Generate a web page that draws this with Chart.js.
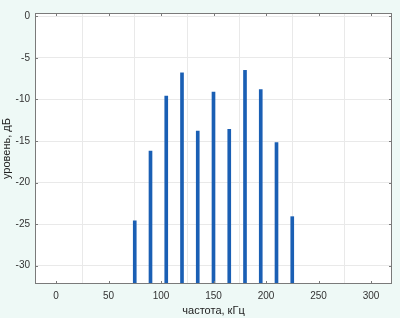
<!DOCTYPE html>
<html>
<head>
<meta charset="utf-8">
<script src="https://cdn.jsdelivr.net/npm/chart.js@4"></script>
<style>
  html, body { margin: 0; padding: 0; background: #eef9f6; }
  #wrap { width: 400px; height: 318px; }
</style>
</head>
<body>
<div id="wrap"><canvas id="spectrumChart" width="400" height="318"></canvas></div>
<script>
// частоты гармоник, кГц
var freqs = [75, 90, 105, 120, 135, 150, 165, 180, 195, 210, 225];
// уровни, дБ
var levels = [-24.6, -16.2, -9.6, -6.8, -13.8, -9.1, -13.6, -6.5, -8.8, -15.2, -24.1];
var xTicks = [0, 50, 100, 150, 200, 250, 300];
var yTicks = [0, -5, -10, -15, -20, -25, -30];
var xMin = -20, xMax = 320;
var yMin = -32.2, yMax = 0.4;

// рамка и засечки внутрь, как в MATLAB
var boxPlugin = {
  id: "box",
  beforeDraw: function (chart) {
    var a = chart.chartArea;
    var c = chart.ctx;
    c.save();
    c.fillStyle = "#ffffff";
    c.fillRect(a.left, a.top, a.right - a.left, a.bottom - a.top);
    c.restore();
  },
  afterDraw: function (chart) {
    var a = chart.chartArea;
    var c = chart.ctx;
    var xs = chart.scales.x, ys = chart.scales.y;
    c.save();
    c.strokeStyle = "#7a7a7a";
    c.lineWidth = 1;
    c.strokeRect(a.left + 0.5, a.top + 0.5, a.right - a.left - 1, a.bottom - a.top - 1);
    c.beginPath();
    xTicks.forEach(function (v) {
      var px = Math.round(xs.getPixelForValue(v)) + 0.5;
      c.moveTo(px, a.bottom); c.lineTo(px, a.bottom - 3);
      c.moveTo(px, a.top); c.lineTo(px, a.top + 3);
    });
    yTicks.forEach(function (v) {
      var py = Math.round(ys.getPixelForValue(v)) + 0.5;
      c.moveTo(a.left, py); c.lineTo(a.left + 3, py);
      c.moveTo(a.right, py); c.lineTo(a.right - 3, py);
    });
    c.stroke();
    c.restore();
  }
};

var ctx = document.getElementById("spectrumChart").getContext("2d");
var chart = new Chart(ctx, {
  type: "bar",
  data: {
    datasets: [
      {
        label: "уровень",
        data: freqs.map(function (f, i) { return { x: f, y: levels[i] }; }),
        backgroundColor: "#1a5fb4",
        borderWidth: 0,
        barThickness: 3,
        base: yMin,
      },
    ],
  },
  options: {
    responsive: false,
    animation: false,
    layout: { padding: { top: 13, right: 8, left: 0, bottom: 0 } },
    plugins: { legend: { display: false }, tooltip: { enabled: false } },
    scales: {
      x: {
        type: "linear",
        min: xMin,
        max: xMax,
        offset: false,
        afterBuildTicks: function (s) { s.ticks = xTicks.map(function (v) { return { value: v }; }); },
        afterFit: function (s) { s.height = 34; },
        grid: { color: "#e9e9e9", drawTicks: false },
        border: { display: false },
        ticks: { padding: 6, color: "#333333", font: { family: "Liberation Sans", size: 10 }, maxRotation: 0 },
        title: {
          display: true,
          text: "частота, кГц",
          color: "#222222",
          font: { family: "Liberation Sans", size: 11 },
          padding: { top: 0, bottom: 0 },
        },
      },
      y: {
        min: yMin,
        max: yMax,
        afterBuildTicks: function (s) { s.ticks = yTicks.map(function (v) { return { value: v }; }); },
        afterFit: function (s) { s.width = 35; },
        grid: { color: "#e9e9e9", drawTicks: false },
        border: { display: false },
        ticks: { padding: 5, color: "#333333", font: { family: "Liberation Sans", size: 10 } },
        title: {
          display: true,
          text: "уровень, дБ",
          color: "#222222",
          font: { family: "Liberation Sans", size: 11 },
          padding: { top: 0, bottom: 1 },
        },
      },
    },
  },
  plugins: [boxPlugin],
});
</script>
</body>
</html>
